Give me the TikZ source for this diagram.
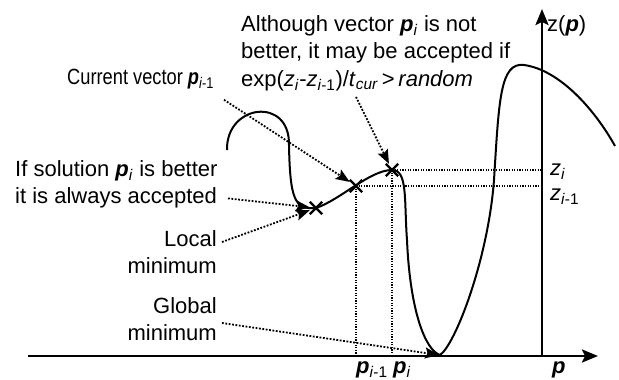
\documentclass[tikz,border=0pt]{standalone}
\usepackage{fontspec}
\setmainfont{Liberation Sans}
\newfontfamily\narrowfont[FakeStretch=0.83]{Liberation Sans}
\usetikzlibrary{arrows.meta, positioning, shapes.misc, calc}
\newcommand{\vp}{\textbf{\textit{p}}}
\newcommand{\ixi}{\textsubscript{\textit{i}}}
\newcommand{\ixprev}{\textsubscript{\textit{i}-1}}

\begin{document}
\begin{tikzpicture}[x=1pt, y=-1pt,
    note/.style={inner sep=0pt, font=\fontsize{22}{27.5}\selectfont},
    axis/.style={line width=2.4pt, -{Stealth[length=16pt, width=13pt, inset=3pt]}},
    curve/.style={line width=2pt},
    pointer/.style={line width=1.8pt, dash pattern=on 1.8pt off 1.6pt, -{Stealth[length=14pt, width=11pt, inset=2.5pt]}},
    guide/.style={line width=1.1pt, dash pattern=on 1.1pt off 1.5pt},
    crossmark/.style={cross out, draw, line width=2.4pt, minimum size=10pt, inner sep=0pt}
]
\useasboundingbox (0,0) rectangle (619,380);
% axes
\coordinate (O) at (542,356);
\coordinate (xstart) at (28,356);
\coordinate (xend) at (598,356);
\coordinate (ztop) at (542,9);
\draw[axis] (xstart) -- (xend);
\draw[axis] (O) -- (ztop);
% objective function
\draw[curve] (227,150) .. controls (226,104) and (290,96) .. (289,145)
    .. controls (290,200) and (295,210) .. (316,208)
    .. controls (340,200) and (370,170) .. (392,170)
    .. controls (408,170) and (404,200) .. (407,240)
    .. controls (410,310) and (425,350) .. (440,355)
    .. controls (455,345) and (488,260) .. (494,180)
    .. controls (499,100) and (500,62) .. (524,65)
    .. controls (560,70) and (595,110) .. (615,146);
% visited points
\node[crossmark] (plocal) at (316,208) {};
\node[crossmark] (pprev) at (356,186) {};
\node[crossmark] (pcur) at (392,170) {};
\coordinate (gmin) at (439,355);
% projections on the axes
\draw[guide] (pprev.center) -- (pprev.center -| O);
\draw[guide] (pcur.center) -- (pcur.center -| O);
\draw[guide] (pprev.center) -- (pprev.center |- O);
\draw[guide] (pcur.center) -- (pcur.center |- O);
% axis labels
\node[note, anchor=base west] (zlab) at (547,31) {z(\vp)};
\node[note, anchor=base west] (zi) at (550,175) {\textit{z}\ixi};
\node[note, anchor=base west] (zprev) at (550,200) {\textit{z}\ixprev};
\node[note, anchor=base west] (pprevlab) at (356,373) {\vp\ixprev};
\node[note, anchor=base west] (pcurlab) at (393,373) {\vp\ixi};
\node[note, anchor=base west] (plab) at (552,373) {\vp};
% annotations
\node[note, anchor=base west, font=\narrowfont\fontsize{22}{27.5}\selectfont] (cur) at (67,84) {Current vector \vp\ixprev};
\node[note, anchor=north west, align=left] (although) at (241,15)
    {Although vector \vp\ixi{} is not\\better, it may be accepted if\\exp(\textit{z}\ixi-\textit{z}\ixprev)/\textit{t}\textsubscript{\textit{cur}}\,>\,\textit{random}};
\node[note, anchor=north west, align=left] (ifsol) at (15,160)
    {If solution \vp\ixi{} is better\\it is always accepted};
\node[note, anchor=north east, align=right] (local) at (217,230) {Local\\minimum};
\node[note, anchor=north east, align=right] (global) at (217,297) {Global\\minimum};
% pointers
\draw[pointer] ([shift={(157,11)}]cur.south west) -- (pprev);
\draw[pointer] ([shift={(115,6)}]although.south west) -- (pcur);
\draw[pointer] ([shift={(213,-10)}]ifsol.south west) -- (plocal);
\draw[pointer] ([shift={(5,12)}]local.north east) -- (plocal);
\draw[pointer] ([shift={(5,26)}]global.north east) -- (gmin);
\end{tikzpicture}
\end{document}
